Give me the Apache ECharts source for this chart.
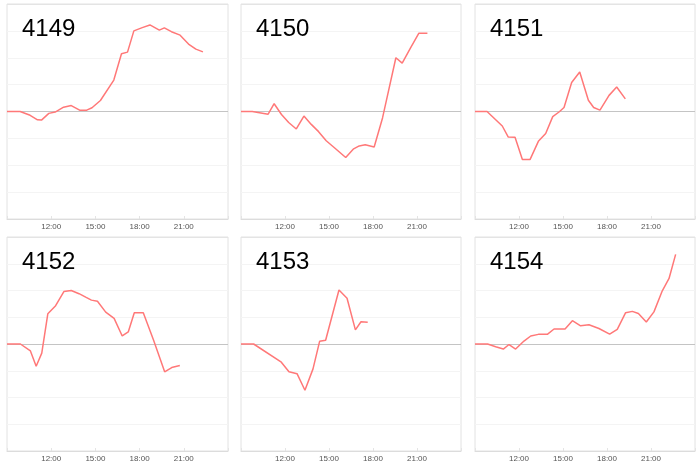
<!DOCTYPE html>
<html>
<head>
<meta charset="utf-8">
<script src="https://cdn.jsdelivr.net/npm/echarts@6/dist/echarts.min.js"></script>
<style>
html,body{margin:0;padding:0;background:#fff;}
#main{width:700px;height:466px;}
</style>
</head>
<body>
<div id="main"></div>
<script>
// Panel names
const panelNames = ['4149', '4150', '4151', '4152', '4153', '4154'];
// X tick labels (hours)
const tickHours = [12, 15, 18, 21];

// Series values: [hour of day, value]
const s4149 = [[9.0,0],[9.89,0],[10.57,-0.14],[11.07,-0.31],[11.34,-0.32],[11.84,-0.07],[12.27,-0.02],[12.84,0.16],[13.36,0.22],[13.93,0.05],[14.41,0.05],[14.77,0.14],[15.34,0.41],[16.25,1.17],[16.77,2.15],[17.18,2.21],[17.61,3.0],[18.18,3.12],[18.70,3.22],[19.34,3.03],[19.68,3.11],[20.16,2.97],[20.75,2.84],[21.32,2.51],[21.82,2.32],[22.30,2.22]];
const s4150 = [[9.0,0],[9.77,0],[10.85,-0.10],[11.26,0.29],[11.76,-0.11],[12.25,-0.41],[12.77,-0.65],[13.29,-0.17],[13.79,-0.48],[14.29,-0.75],[14.81,-1.09],[15.37,-1.35],[16.14,-1.71],[16.68,-1.39],[17.06,-1.28],[17.47,-1.24],[18.08,-1.32],[18.65,-0.24],[19.56,2.0],[19.99,1.80],[20.56,2.37],[21.12,2.91],[21.71,2.91]];
const s4151 = [[9.0,0],[9.82,0],[10.86,-0.54],[11.27,-0.95],[11.73,-0.96],[12.23,-1.79],[12.75,-1.79],[13.32,-1.11],[13.82,-0.82],[14.30,-0.19],[14.75,-0.01],[15.07,0.15],[15.59,1.08],[16.14,1.47],[16.73,0.42],[17.09,0.15],[17.52,0.05],[18.14,0.60],[18.66,0.91],[19.25,0.47]];
const s4152 = [[9.0,0],[9.91,0],[10.59,-0.26],[10.98,-0.83],[11.36,-0.34],[11.77,1.13],[12.30,1.43],[12.86,1.96],[13.36,2.0],[13.89,1.88],[14.34,1.75],[14.73,1.64],[15.14,1.60],[15.70,1.19],[16.27,0.96],[16.82,0.30],[17.23,0.45],[17.64,1.17],[18.25,1.17],[18.95,0.14],[19.70,-1.04],[20.18,-0.88],[20.73,-0.80]];
const s4153 = [[9.0,0],[9.86,0],[11.75,-0.68],[12.27,-1.04],[12.82,-1.11],[13.36,-1.73],[13.91,-0.93],[14.36,0.10],[14.77,0.14],[15.68,2.02],[16.23,1.71],[16.80,0.53],[17.18,0.83],[17.64,0.81]];
const s4154 = [[9.0,0],[9.86,0],[10.41,-0.10],[10.93,-0.19],[11.32,-0.02],[11.77,-0.19],[12.34,0.11],[12.80,0.30],[13.32,0.36],[13.93,0.36],[14.39,0.56],[15.14,0.56],[15.64,0.87],[16.20,0.68],[16.77,0.72],[17.45,0.58],[18.18,0.37],[18.70,0.55],[19.27,1.17],[19.73,1.22],[20.14,1.14],[20.68,0.82],[21.20,1.20],[21.77,1.99],[22.23,2.45],[22.68,3.35]];
const seriesData = [s4149, s4150, s4151, s4152, s4153, s4154];

const colLefts = [7, 241, 475];
const colWidths = [221, 220, 220];
const rowTops = [4, 237];
const rowHeights = [215, 214];

const splitColors = ['#e4e4e4','#f4f4f4','#f4f4f4','#f4f4f4','#c4c4c4','#f4f4f4','#f4f4f4','#f4f4f4','#e4e4e4'];

const grids = [], xAxes = [], yAxes = [], series = [], titles = [];
panelNames.forEach((name, i) => {
  const c = i % 3, r = Math.floor(i / 3);
  grids.push({
    left: colLefts[c], top: rowTops[r], width: colWidths[c], height: rowHeights[r],
    show: true, borderColor: '#e2e2e2', borderWidth: 1, backgroundColor: '#fff'
  });
  xAxes.push({
    gridIndex: i, type: 'value', min: 9, max: 24, interval: 3,
    axisLine: { show: true, onZero: false, lineStyle: { color: '#dcdcdc' } },
    axisTick: { show: true, inside: true, length: 3, lineStyle: { color: '#e4e4e4' } },
    axisLabel: {
      fontSize: 8, color: '#555', margin: 4, fontFamily: 'Liberation Sans, Arial, sans-serif',
      formatter: v => tickHours.includes(v) ? v + ':00' : ''
    },
    splitLine: { show: false }
  });
  yAxes.push({
    gridIndex: i, type: 'value', min: -4, max: 4, interval: 1,
    axisLine: { show: false }, axisTick: { show: false }, axisLabel: { show: false },
    splitLine: { show: true, lineStyle: { color: splitColors, width: 1 } }
  });
  series.push({
    type: 'line', xAxisIndex: i, yAxisIndex: i, data: seriesData[i],
    symbol: 'none', lineStyle: { color: '#ff7878', width: 1.5 }, silent: true
  });
  titles.push({
    text: name, left: colLefts[c] + 15, top: rowTops[r] + 13, padding: 0,
    textStyle: { fontSize: 24, fontWeight: 'normal', color: '#000', fontFamily: 'Liberation Sans, Arial, sans-serif' }
  });
});

const chart = echarts.init(document.getElementById('main'), null, { renderer: 'canvas' });
chart.setOption({
  animation: false,
  title: titles,
  grid: grids,
  xAxis: xAxes,
  yAxis: yAxes,
  series: series
});
</script>
</body>
</html>
